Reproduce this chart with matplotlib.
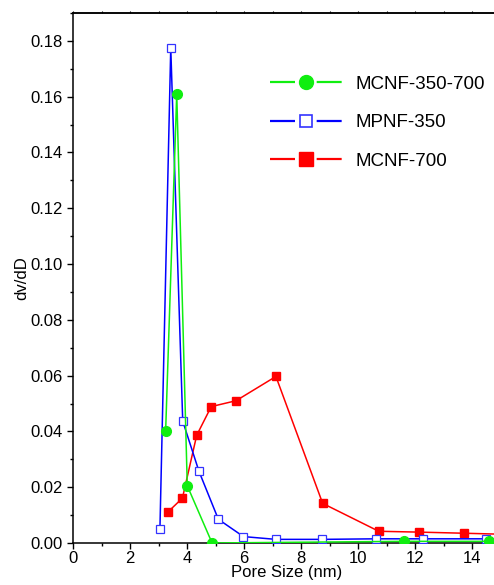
import matplotlib

matplotlib.use("Agg")
import matplotlib.pyplot as plt
from matplotlib.lines import Line2D
from matplotlib.ticker import MultipleLocator, FormatStrFormatter

plt.rcParams["font.family"] = ["Liberation Sans", "DejaVu Sans"]

# pore size distribution
mcnf_350_700_x = [3.25, 3.64, 4.01, 4.88, 11.61, 14.58, 15.5]
mcnf_350_700_y = [0.040, 0.161, 0.0205, 0.0, 0.0006, 0.0006, 0.0006]

mpnf_350_x = [3.05, 3.43, 3.85, 4.42, 5.10, 5.98, 7.12, 8.74, 10.63, 12.27, 14.49, 15.5]
mpnf_350_y = [0.005, 0.1775, 0.0437, 0.0257, 0.0085, 0.0023, 0.0013, 0.0013, 0.0015, 0.0015, 0.0015, 0.0013]

mcnf_700_x = [3.32, 3.84, 4.34, 4.85, 5.72, 7.12, 8.76, 10.73, 12.15, 13.72, 15.6]
mcnf_700_y = [0.011, 0.0161, 0.0386, 0.0489, 0.051, 0.0597, 0.0142, 0.0042, 0.0039, 0.0035, 0.003]

labels = ["MCNF-350-700", "MPNF-350", "MCNF-700"]

W, H = 494, 585
fig = plt.figure(figsize=(W / 100, H / 100), dpi=100)
ax = fig.add_axes([73 / W, 42 / H, 427.5 / W, 530 / H])

green, blue, red = "#10ee10", "#0000ff", "#ff0000"
lw = 1.1
ax.plot(mcnf_700_x, mcnf_700_y, color=red, lw=lw, marker="s", ms=6.2,
        mec=red, mfc=red, zorder=3)
ax.plot(mpnf_350_x, mpnf_350_y, color=blue, lw=lw, marker="s", ms=5.6,
        mec="#3333ff", mfc="white", mew=0.9, zorder=4)
ax.plot(mcnf_350_700_x, mcnf_350_700_y, color=green, lw=lw, marker="o", ms=7,
        mec=green, mfc=green, zorder=5)

ax.set_xlim(0, 15)
ax.set_ylim(0, 0.19)
ax.xaxis.set_major_locator(MultipleLocator(2))
ax.xaxis.set_minor_locator(MultipleLocator(1))
ax.yaxis.set_major_locator(MultipleLocator(0.02))
ax.yaxis.set_minor_locator(MultipleLocator(0.01))
ax.yaxis.set_major_formatter(FormatStrFormatter("%.2f"))

ax.tick_params(axis="both", which="major", direction="out", labelsize=12, width=1, length=4)
ax.tick_params(axis="both", which="minor", direction="out", width=1, length=2.5)
ax.tick_params(axis="x", which="both", pad=2)
# tiny ticks on the top spine, every unit
top = ax.secondary_xaxis("top")
top.xaxis.set_major_locator(MultipleLocator(1))
top.tick_params(direction="out", length=1.5, width=0.8, labeltop=False)
top.spines["top"].set_linewidth(1.1)
for side in ("left", "bottom", "top", "right"):
    ax.spines[side].set_linewidth(1.1)

ax.set_xlabel("Pore Size (nm)", fontsize=12, labelpad=-1)
ax.set_ylabel("dv/dD", fontsize=12, labelpad=1)

# origin style legend: line - marker - line
seg, gap, hlw = 18.0, 15.6, 1.6
styles = [
    dict(color=green, marker="o", ms=10, mfc=green, mec=green),
    dict(color=blue, marker="s", ms=9, mfc="white", mec="#3333ff", mew=1.2),
    dict(color=red, marker="s", ms=9.5, mfc=red, mec=red),
]
handles = []
for st in styles:
    line = Line2D([], [], color=st["color"], lw=hlw,
                  dashes=(seg / hlw, gap / hlw, seg / hlw, 100 / hlw))
    mark = Line2D([], [], ls="none", marker=st["marker"], ms=st["ms"], mfc=st["mfc"],
                  mec=st["mec"], mew=st.get("mew", 1))
    handles.append((line, mark))

ax.legend(handles, labels, loc="upper left", bbox_to_anchor=(253 / W, 1 - 59 / H),
          bbox_transform=fig.transFigure, frameon=False, fontsize=13.5,
          handlelength=3.84, handletextpad=0.75, labelspacing=1.13, numpoints=1)

fig.savefig("out.png", dpi=100, facecolor="white")
